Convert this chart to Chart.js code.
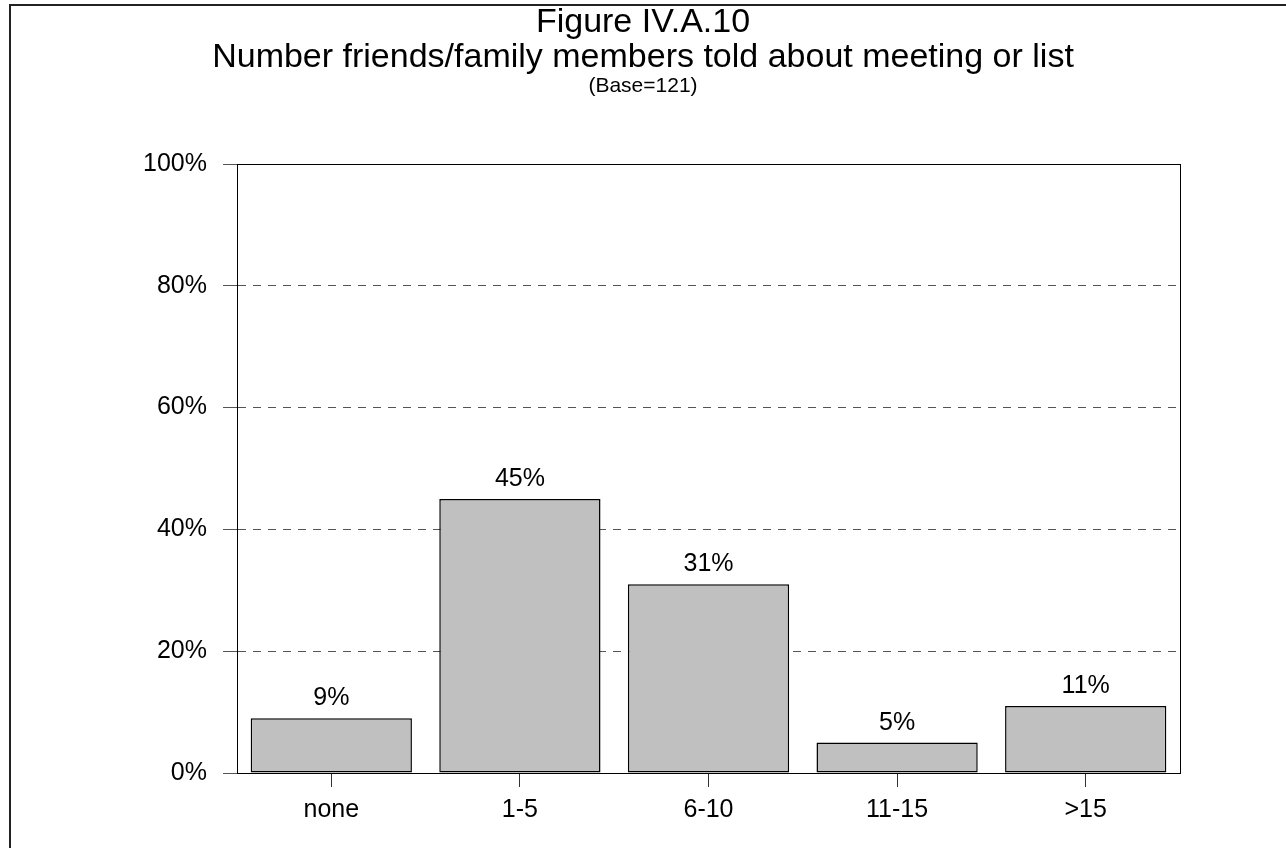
<!DOCTYPE html>
<html>
<head>
<meta charset="utf-8">
<script src="https://cdn.jsdelivr.net/npm/chart.js@4/dist/chart.umd.min.js"></script>
<style>
    html, body { margin: 0; padding: 0; background: #fff; }
    #wrap { width: 1286px; height: 848px; position: relative; }
</style>
</head>
<body>
<div id="wrap"><canvas id="chart"></canvas></div>
<script>
// data
const categories = ['none', '1-5', '6-10', '11-15', '>15'];
const shares = [9, 45, 31, 5, 11];
const yTicks = [0, 20, 40, 60, 80, 100];

const titleLines = ['Figure IV.A.10', 'Number friends/family members told about meeting or list'];
const baseNote = '(Base=121)';

const font = "'Liberation Sans', Arial, sans-serif";

// box around the plot + outer frame
const framePlugin = {
    id: 'frame',
    afterDraw(chart) {
        const { ctx, chartArea: a } = chart;
        ctx.save();
        ctx.strokeStyle = '#000';
        ctx.lineWidth = 1;
        ctx.strokeRect(Math.round(a.left) + 0.5, Math.round(a.top) + 0.5,
            Math.round(a.right - a.left), Math.round(a.bottom - a.top));
        ctx.lineWidth = 2;
        ctx.strokeStyle = '#222';
        ctx.strokeRect(10, 5, 1400, 1000);
        ctx.restore();
    }
};

// value labels on top of the bars
const valueLabels = {
    id: 'valueLabels',
    afterDatasetsDraw(chart) {
        const { ctx } = chart;
        const meta = chart.getDatasetMeta(0);
        ctx.save();
        ctx.font = '25px ' + font;
        ctx.fillStyle = '#000';
        ctx.textAlign = 'center';
        ctx.textBaseline = 'alphabetic';
        meta.data.forEach((bar, i) => {
            ctx.fillText(shares[i] + '%', bar.x, bar.y - 13);
        });
        ctx.restore();
    }
};

new Chart(document.getElementById('chart'), {
    type: 'bar',
    data: {
        labels: categories,
        datasets: [{
            data: shares,
            backgroundColor: '#c0c0c0',
            borderColor: '#000',
            borderWidth: 1.5,
            borderSkipped: false,
            barPercentage: 0.855,
            categoryPercentage: 1
        }]
    },
    options: {
        responsive: true,
        maintainAspectRatio: false,
        animation: false,
        devicePixelRatio: 1,
        layout: { padding: 0 },
        plugins: {
            legend: { display: false },
            tooltip: { enabled: false },
            title: {
                display: true,
                text: titleLines,
                color: '#000',
                font: { family: font, size: 34, weight: 'normal', lineHeight: '35px' },
                padding: { top: 5, bottom: 0 }
            },
            subtitle: {
                display: true,
                text: baseNote,
                color: '#000',
                font: { family: font, size: 21, weight: 'normal', lineHeight: '22px' },
                padding: { top: 0, bottom: 67 }
            }
        },
        scales: {
            x: {
                grid: {
                    display: true,
                    offset: false,
                    drawOnChartArea: false,
                    drawTicks: true,
                    tickLength: 14,
                    tickColor: '#333'
                },
                border: { display: true, color: '#000', width: 1 },
                ticks: {
                    color: '#000',
                    padding: 8,
                    font: { family: font, size: 25 }
                },
                afterFit(scale) { scale.height = 75; }
            },
            y: {
                min: 0,
                max: 100,
                afterBuildTicks(scale) {
                    scale.ticks = yTicks.map(v => ({ value: v }));
                },
                grid: {
                    color: '#555',
                    lineWidth: 1,
                    tickLength: 14,
                    tickColor: '#555',
                    tickBorderDash: []
                },
                border: { display: true, color: '#000', width: 1, dash: [8, 7] },
                ticks: {
                    color: '#000',
                    padding: 16,
                    font: { family: font, size: 25 },
                    callback: v => v + '%'
                },
                afterFit(scale) { scale.width = 237; }
            },
            // empty right-hand strip, keeps the title centred on the page
            yRight: {
                position: 'right',
                display: true,
                grid: { display: false },
                border: { display: false },
                ticks: { display: false },
                afterFit(scale) { scale.width = 106; }
            }
        }
    },
    plugins: [framePlugin, valueLabels]
});
</script>
</body>
</html>
